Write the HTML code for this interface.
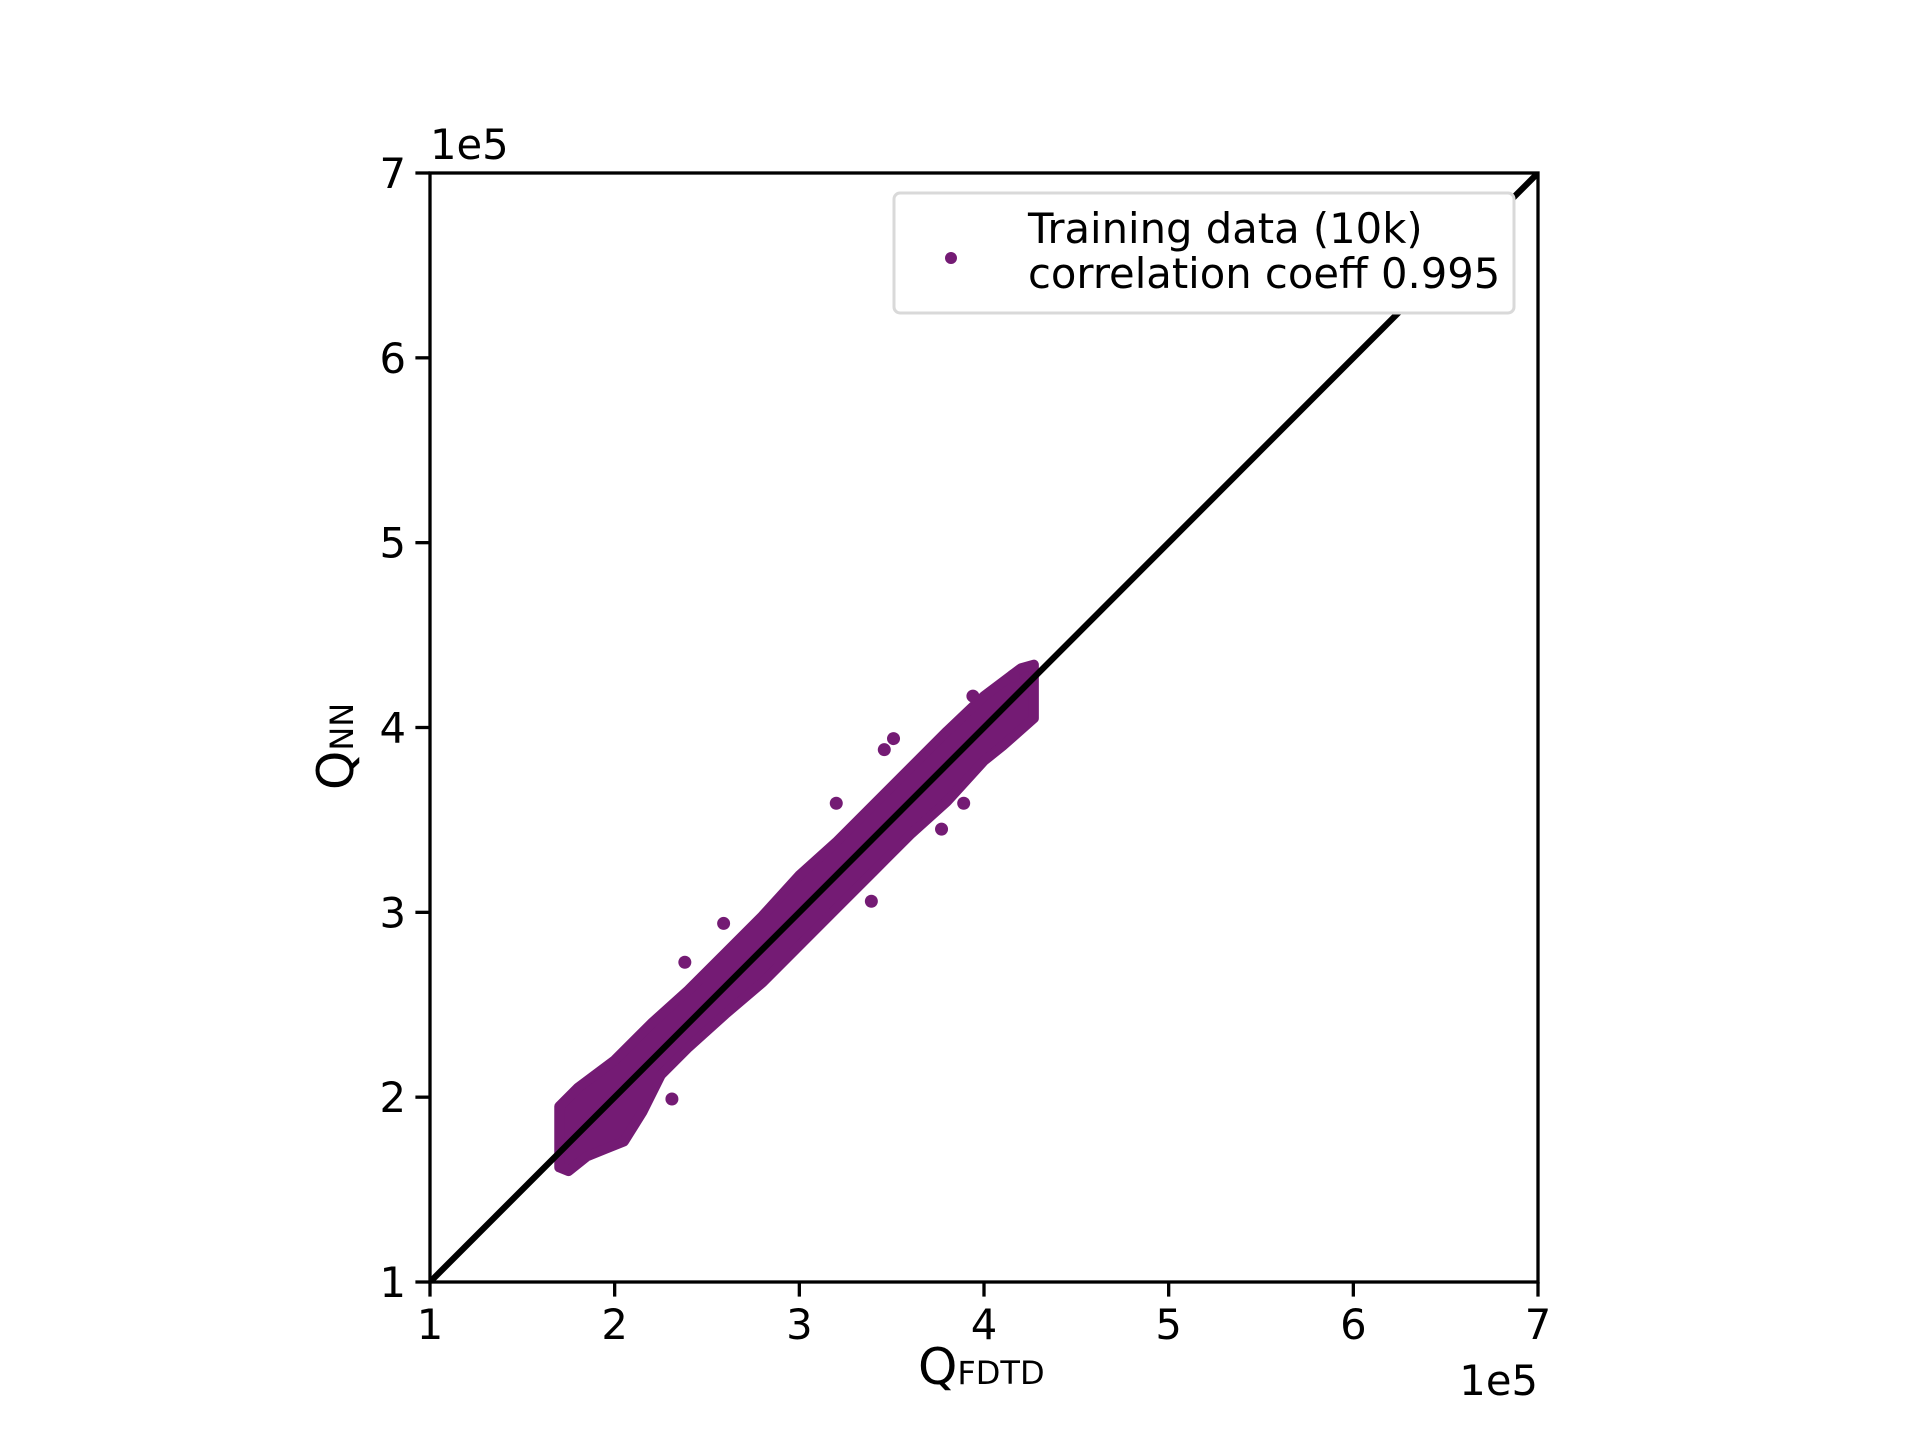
<!DOCTYPE html>
<html><head><meta charset="utf-8"><style>
html,body{margin:0;padding:0;background:#fff;}
svg{display:block;font-family:"DejaVu Sans","Liberation Sans",sans-serif;}
</style></head><body>
<svg id="chart" width="1920" height="1440" viewBox="0 0 1920 1440">
<rect width="1920" height="1440" fill="#fff"/>
<defs><clipPath id="clip"><rect x="430" y="173" width="1108" height="1109"/></clipPath></defs>
<g id="plot" clip-path="url(#clip)"></g>
<g id="axes"></g>
<g>
<rect x="894" y="193" width="620" height="120" rx="6" fill="#ffffff" stroke="#d9d9d9" stroke-width="3"/>
<circle cx="951" cy="258" r="6" fill="#741b74"/>
<text x="1028" y="243" font-size="41.7" fill="#000">Training data (10k)</text>
<text x="1028" y="288" font-size="41.7" fill="#000">correlation coeff 0.995</text>
</g>
<text x="430" y="159" font-size="41.7">1e5</text>
<text x="1538" y="1395" font-size="41.7" text-anchor="end">1e5</text>
<text x="918" y="1384" font-size="50">Q<tspan font-size="32">FDTD</tspan></text>
<text transform="translate(353,790) rotate(-90)" font-size="50">Q<tspan font-size="32">NN</tspan></text>
</svg>
<script>
const xTicks = [1, 2, 3, 4, 5, 6, 7];
const yTicks = [1, 2, 3, 4, 5, 6, 7];
const xDomain = [100000, 700000];
const yDomain = [100000, 700000];
// band envelope of the dense training cloud (data units)
const upperX = [170000,180000,200000,220000,240000,260000,280000,300000,320000,340000,360000,380000,400000,420000,427000];
const upperY = [195000,205000,220000,240000,258000,278000,298000,320000,338000,358000,378000,398000,417000,432000,434000];
const lowerX = [427000,410000,400000,380000,360000,340000,320000,300000,280000,260000,240000,225000,215000,205000,195000,185000,175000,170000];
const lowerY = [405000,390000,382000,360000,342000,322000,302000,282000,262000,245000,227000,212000,192000,176000,172000,168000,160000,162000];
// scattered outlier points
const outX = [320000,339000,259000,231000,238000,377000,389000,351000,394000,346000,416000];
const outY = [359000,306000,294000,199000,273000,345000,359000,394000,417000,388000,428000];
const L=430,R=1538,T=173,B=1282;
function sx(v){return L+(v-xDomain[0])/(xDomain[1]-xDomain[0])*(R-L);}
function sy(v){return B-(v-yDomain[0])/(yDomain[1]-yDomain[0])*(B-T);}
const NS='http://www.w3.org/2000/svg';
const plot=document.getElementById('plot'), axes=document.getElementById('axes');
function mk(tag,attrs,parent){const e=document.createElementNS(NS,tag);for(const k in attrs)e.setAttribute(k,attrs[k]);parent.appendChild(e);return e;}
let pts=[];
for(let i=0;i<upperX.length;i++)pts.push(sx(upperX[i])+','+sy(upperY[i]));
for(let i=0;i<lowerX.length;i++)pts.push(sx(lowerX[i])+','+sy(lowerY[i]));
const poly=mk('polygon',{points:pts.join(' '),fill:'#741b74',stroke:'#741b74','stroke-width':10,'stroke-linejoin':'round'},plot);


for(let i=0;i<outX.length;i++){
  const c=mk('circle',{cx:sx(outX[i]),cy:sy(outY[i]),r:6.5,fill:'#741b74'},plot);
  
  
}
const d=mk('line',{x1:sx(xDomain[0]),y1:sy(yDomain[0]),x2:sx(xDomain[1]),y2:sy(yDomain[1]),stroke:'#000','stroke-width':6.25},plot);


const f=mk('rect',{x:L,y:T,width:R-L,height:B-T,fill:'none',stroke:'#000','stroke-width':3.3},axes);


xTicks.forEach(t=>{
  const x=sx(t*1e5);
  const tk=mk('line',{x1:x,y1:B,x2:x,y2:B+14.6,stroke:'#000','stroke-width':3.3},axes);
  
  
  const tx=mk('text',{x:x,y:B+57,'font-size':41.7,'text-anchor':'middle'},axes);
  tx.textContent=t;
  
  
});
yTicks.forEach(t=>{
  const y=sy(t*1e5);
  const tk=mk('line',{x1:L-14.6,y1:y,x2:L,y2:y,stroke:'#000','stroke-width':3.3},axes);
  
  
  const tx=mk('text',{x:L-24,y:y+15,'font-size':41.7,'text-anchor':'end'},axes);
  tx.textContent=t;
  
  
});
</script>
</body></html>
